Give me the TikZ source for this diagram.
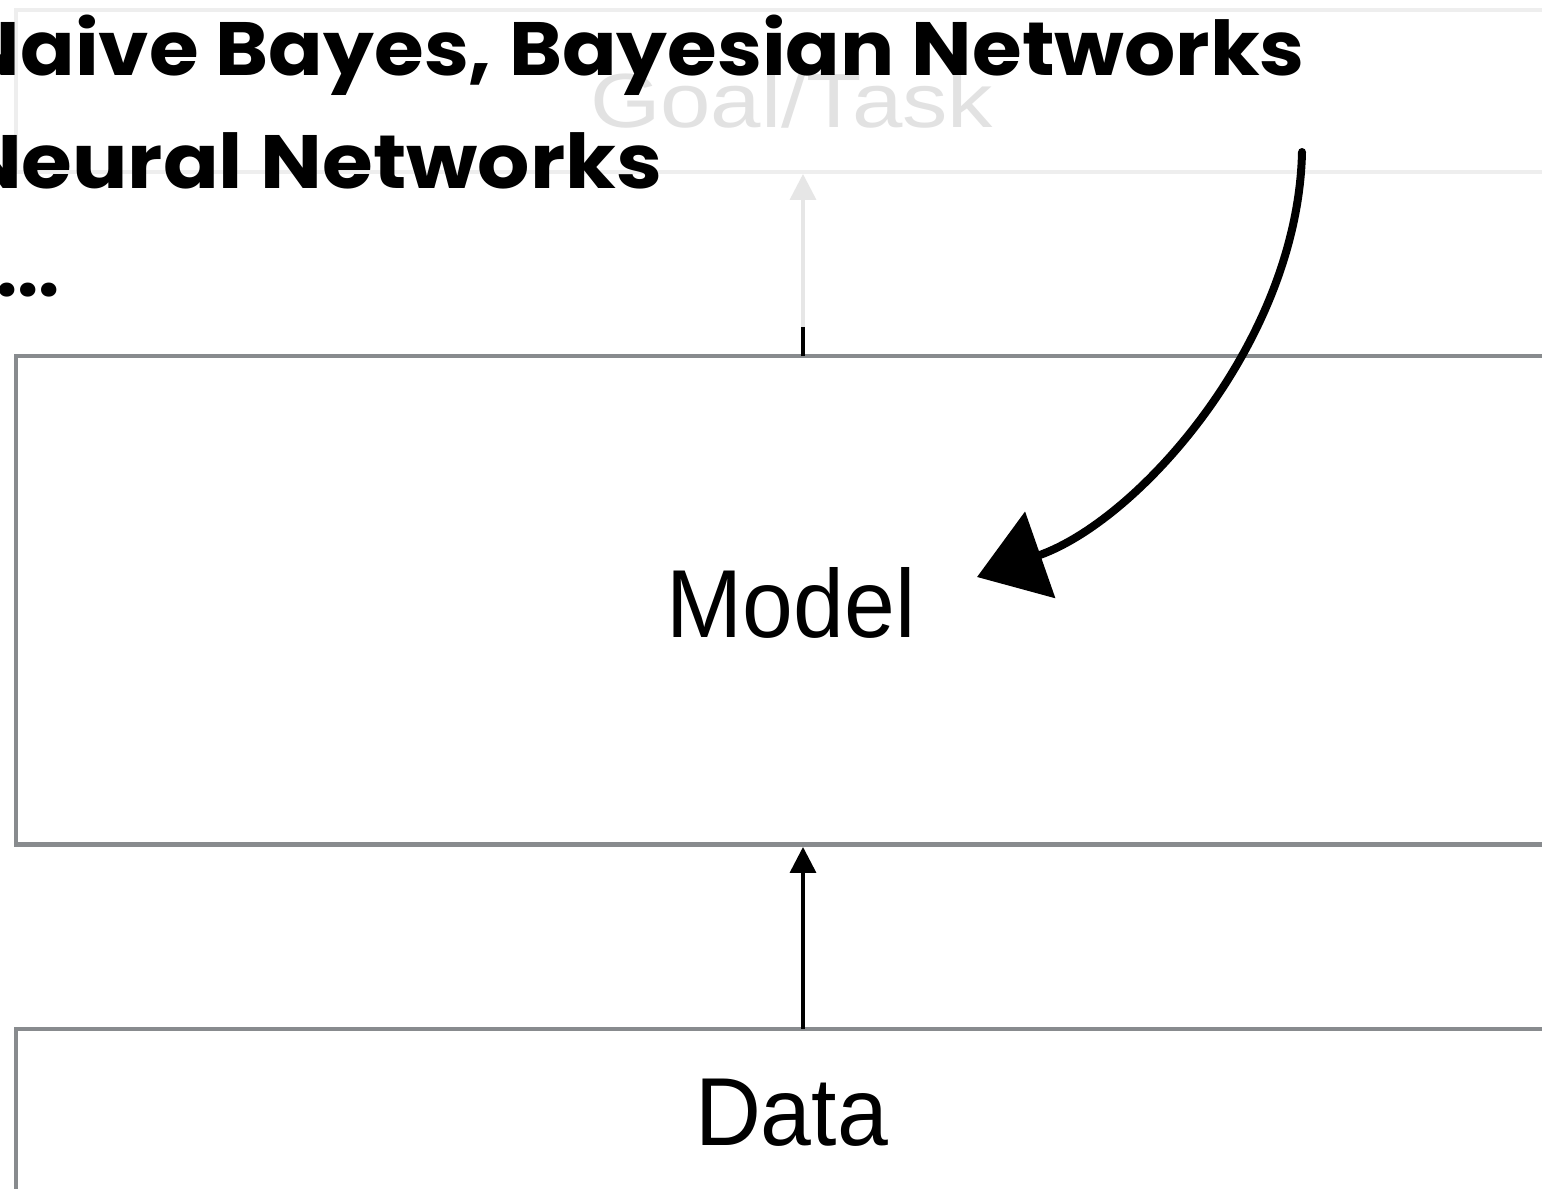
\documentclass[tikz,border=0pt]{standalone}
\usepackage{fontspec}
\setmainfont{Liberation Sans}
\newfontfamily\handfont{Poppins}
\usetikzlibrary{arrows.meta}

\definecolor{boxgray}{HTML}{888B8E}
\definecolor{fadegray}{HTML}{EEEEEE}
\definecolor{fadetext}{HTML}{E2E2E2}
\definecolor{fadearrow}{HTML}{E6E6E6}

\tikzset{
  layerbox/.style={draw=boxgray, line width=0.09cm, rectangle,
    inner sep=0pt, outer sep=0pt, minimum width=31.68cm},
  fadedbox/.style={layerbox, draw=fadegray},
  layerlabel/.style={inner sep=0pt, outer sep=0pt, anchor=base,
    font=\fontsize{55}{60}\selectfont},
  handtext/.style={inner sep=0pt, outer sep=0pt, anchor=base west,
    font=\handfont\bfseries\fontsize{43}{50}\selectfont},
  flow/.style={line width=0.07cm, -{Triangle[length=0.52cm,width=0.52cm]}},
  fadedflow/.style={flow, draw=fadearrow, fill=fadearrow},
  handarrow/.style={line width=0.16cm, line cap=round,
    -{Triangle[length=1.34cm,width=1.8cm]}},
}

\begin{document}
\begin{tikzpicture}[x=0.02cm, y=-0.02cm]
  \useasboundingbox (0,0) rectangle (1542,1188);
  \clip (0,0) rectangle (1542,1188);
  \fill[white] (0,0) rectangle (1542,1188);

  % stacked layers
  \node[fadedbox, minimum height=3.24cm] (goal) at (808,91) {};
  \node[layerbox, minimum height=9.77cm] (model) at (808,600.25) {};
  \node[layerbox, minimum height=4.4cm] (data) at (808,1139) {};

  \node[layerlabel, text=fadetext, font=\fontsize{43.7}{48}\selectfont]
    (goaltext) at (791.5,127) {\scalebox{1.18}[1]{Goal/Task}};
  \node[layerlabel] (modeltext) at (791,637) {\scalebox{0.945}[1]{Model}};
  \node[layerlabel] (datatext) at (791.5,1145) {\scalebox{0.945}[1]{Data}};

  % vertical flow between layers
  \coordinate (axis) at (803,0);
  \coordinate (stub) at (803,327);
  \draw[fadedflow, shorten >=0.04cm] (axis |- model.north) -- (axis |- goal.south);
  \draw[line width=0.08cm] (axis |- model.north) -- (stub);
  \draw[flow, shorten >=0.05cm] (axis |- data.north) -- (axis |- model.south);

  % handwritten annotation
  \node[handtext] (l1) at (-40,75)
    {\resizebox{26.9cm}{\height}{Naive Bayes, Bayesian Networks}};
  \node[handtext] (l2) at (-40,188)
    {\resizebox{14.04cm}{\height}{Neural Networks}};
  \node[handtext] (l3) at (-4,296) {...};

  \coordinate (hs) at (1302,152);
  \coordinate (ht) at (977,577);
  \draw[handarrow] (hs) .. controls (1298,340) and (1140,520) .. (ht);
\end{tikzpicture}
\end{document}
